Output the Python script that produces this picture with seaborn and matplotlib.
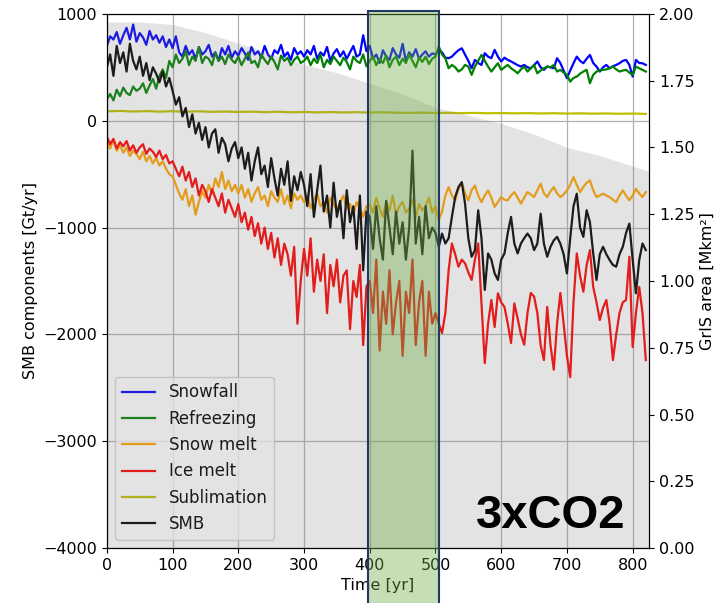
import numpy as np
import pandas as pd
import seaborn as sns
import matplotlib.pyplot as plt
from matplotlib.patches import Rectangle

# time axis of the SMB components (5-yr sampling)
years = np.arange(0, 825, 5)

snowfall = [
    700, 790, 760, 830, 720, 800, 870, 760, 900, 740, 820, 780, 710, 840, 760, 800, 730, 790, 690, 760,
    680, 790, 640, 600, 700, 620, 660, 580, 690, 620, 650, 710, 600, 640, 560, 680, 620, 700, 590, 650,
    610, 680, 630, 570, 690, 620, 650, 590, 700, 620, 580, 660, 630, 710, 600, 640, 570, 680, 620, 650,
    600, 660, 620, 700, 580, 640, 610, 690, 560, 630, 670, 600, 650, 580, 640, 700, 600, 620, 800, 650,
    700, 580, 620, 540, 660, 600, 570, 680, 620, 590, 720, 560, 640, 600, 670, 580, 620, 650, 600, 630,
    620, 663, 640, 590, 585, 600, 632, 660, 678, 620, 560, 491, 569, 540, 522, 632, 600, 585, 663, 600,
    554, 590, 569, 555, 538, 520, 507, 522, 500, 491, 520, 554, 500, 476, 507, 500, 491, 585, 540, 470,
    398, 470, 538, 600, 560, 538, 580, 616, 540, 507, 460, 500, 522, 491, 510, 522, 538, 560, 569, 522,
    413, 569, 540, 538, 522,
]

refreezing = [
    200, 250, 190, 290, 230, 310, 260, 240, 320, 280, 300, 350, 260, 330, 390, 300, 420, 480, 400, 560,
    500, 620, 540, 580, 650, 520, 600, 560, 690, 540, 600, 580, 520, 640, 560, 600, 530, 620, 570, 540,
    600, 520, 580, 640, 540, 560, 500, 620, 570, 530, 600, 550, 480, 610, 560, 590, 520, 570, 600, 540,
    560, 600, 520, 580, 540, 620, 500, 570, 530, 600, 560, 520, 590, 550, 480, 600, 560, 540, 620, 510,
    560, 600, 520, 580, 540, 610, 500, 570, 600, 520, 580, 540, 620, 560, 500, 590, 550, 600, 530, 580,
    600, 694, 620, 585, 491, 522, 500, 460, 480, 522, 507, 429, 507, 560, 616, 560, 507, 460, 500, 538,
    476, 500, 522, 491, 470, 444, 480, 507, 460, 490, 522, 444, 470, 491, 507, 500, 522, 460, 476, 450,
    429, 366, 400, 413, 440, 460, 476, 351, 429, 460, 470, 476, 480, 491, 507, 480, 460, 470, 476, 450,
    429, 507, 490, 476, 460,
]

snow_melt = [
    -200, -260, -180, -280, -230, -300, -250, -330, -280, -310, -360, -290, -380, -330, -400, -350, -420, -380, -450, -500,
    -520, -600, -680, -740, -640, -800, -700, -880, -760, -660, -720, -600, -680, -540, -620, -480, -640, -560, -660, -600,
    -680, -600, -720, -640, -760, -680, -620, -740, -700, -800, -660, -720, -760, -640, -780, -700, -820, -680, -740, -700,
    -760, -700, -820, -740, -680, -800, -760, -860, -720, -780, -840, -760, -700, -820, -780, -880, -760, -820, -900, -800,
    -780, -860, -720, -820, -900, -760, -840, -700, -880, -800, -760, -860, -820, -740, -900, -780, -840, -800, -720, -860,
    -800, -930, -850, -700, -621, -700, -745, -640, -575, -680, -745, -650, -606, -700, -761, -700, -652, -720, -807, -760,
    -714, -740, -745, -700, -668, -720, -776, -720, -668, -690, -714, -650, -590, -680, -714, -660, -621, -680, -714, -690,
    -652, -600, -528, -600, -668, -620, -580, -559, -650, -714, -700, -683, -700, -714, -740, -761, -700, -652, -700, -745,
    -700, -637, -680, -714, -668,
]

ice_melt = [
    -150, -220, -170, -260, -200, -240, -190, -280, -230, -300, -250, -220, -310, -260, -290, -340, -280, -360, -320, -400,
    -380, -450, -520, -430, -560, -480, -620, -540, -700, -600, -660, -760, -640, -720, -800, -680, -860, -740, -820, -900,
    -780, -950, -860, -1020, -900, -1080, -960, -1150, -1000, -1200, -1050, -1280, -1100, -1350, -1150, -1250, -1450, -1180, -1900, -1500,
    -1200, -1450, -1100, -1600, -1300, -1500, -1250, -1800, -1350, -1550, -1300, -1700, -1450, -1400, -1950, -1500, -1650, -1350, -2100, -1550,
    -1500, -1800, -1300, -2150, -1600, -1900, -1400, -2000, -1700, -1500, -2200, -1600, -1800, -1300, -2100, -1700, -1500, -2200, -1600, -1900,
    -1800, -1900, -1987, -1801, -1400, -1149, -1250, -1366, -1300, -1335, -1420, -1490, -1300, -1149, -1700, -2268, -1900, -1678, -1930, -1615,
    -1700, -1743, -1900, -2080, -1710, -1850, -2000, -2096, -1800, -1612, -1645, -1800, -2100, -2240, -1743, -2100, -2330, -1900, -1612, -1900,
    -2200, -2400, -1700, -1242, -1450, -1600, -1350, -1211, -1556, -1700, -1865, -1750, -1678, -1900, -2240, -2000, -1800, -1700, -1678, -1273,
    -2118, -1800, -1556, -1800, -2240,
]

smb = [
    500, 620, 420, 700, 540, 640, 460, 720, 560, 480, 600, 420, 540, 380, 500, 440, 360, 460, 320, 400,
    280, 150, 220, 40, 120, -60, 60, -120, -20, -180, -60, -250, -120, -80, -300, -160, -220, -380, -260, -200,
    -350, -250, -450, -300, -560, -380, -250, -500, -420, -620, -350, -540, -700, -450, -600, -380, -750, -520, -650, -480,
    -600, -800, -500, -900, -650, -420, -850, -700, -1000, -580, -900, -750, -1100, -650, -950, -800, -1200, -700, -1400, -850,
    -900, -1200, -800, -1100, -1300, -750, -1000, -1250, -850, -1150, -950, -1300, -1000, -280, -1150, -900, -1250, -800, -1100, -1000,
    -1050, -1180, -1056, -1149, -1100, -900, -714, -620, -575, -776, -1100, -1273, -1211, -838, -1100, -1584, -1242, -1300, -1429, -1490,
    -1300, -1242, -1050, -900, -1150, -1242, -1149, -1100, -1056, -1100, -1211, -1150, -870, -1150, -1273, -1180, -1120, -1087, -1150, -1250,
    -1429, -1100, -800, -683, -1000, -1087, -838, -950, -1242, -1490, -1250, -1180, -1250, -1304, -1350, -1366, -1250, -1180, -1050, -963,
    -1300, -1615, -1304, -1149, -1211,
]

# sublimation is almost flat, sampled every 20 yr
sub_years = np.arange(0, 830, 20)
sublimation = [88, 92, 86, 90, 85, 89, 84, 88, 83, 86, 82, 85, 80, 84, 79, 82, 78, 81, 77, 80,
               76, 79, 75, 73, 76, 72, 74, 71, 73, 70, 72, 69, 71, 68, 70, 67, 69, 66, 68, 65, 67, 64]

# ice sheet area (right axis)
area_years = [0, 50, 100, 150, 200, 250, 300, 350, 400, 450, 500, 550, 600, 650, 700, 750, 800, 825]
area = [1.97, 1.97, 1.96, 1.93, 1.89, 1.85, 1.81, 1.78, 1.74, 1.70, 1.65, 1.62, 1.59, 1.55, 1.50, 1.47, 1.43, 1.41]

names = ['Snowfall', 'Refreezing', 'Snow melt', 'Ice melt', 'Sublimation', 'SMB']
colors = ['blue', 'green', 'orange', 'red', 'y', 'k']

parts = []
for name, vals in zip(names, [snowfall, refreezing, snow_melt, ice_melt, None, smb]):
    if name == 'Sublimation':
        parts.append(pd.DataFrame({'year': sub_years, 'value': sublimation, 'component': name}))
    else:
        parts.append(pd.DataFrame({'year': years, 'value': vals, 'component': name}))
df = pd.concat(parts, ignore_index=True)

fig = plt.figure(figsize=(7.22, 6.03), dpi=100)
ax = fig.add_axes([0.148, 0.091, 0.751, 0.886])

sns.lineplot(data=df, x='year', y='value', hue='component', hue_order=names,
             palette=dict(zip(names, colors)), linewidth=1.6, ax=ax, estimator=None, sort=True)
ax.set_xlim(0, 825)
ax.set_ylim(-4000, 1000)
ax.set_xticks(range(0, 900, 100))
ax.grid(True, color='#b0b0b0', lw=0.9)
ax.set_xlabel('Time [yr]', fontsize=11.5)
ax.set_ylabel('SMB components [Gt/yr]', fontsize=11.5)
ax.tick_params(labelsize=11.5)

leg = ax.get_legend()
handles = leg.legend_handles
labels = [t.get_text() for t in leg.get_texts()]
for h in handles:
    h.set_linewidth(1.6)
ax.legend(handles, labels, loc='lower left', fontsize=12)

ax2 = ax.twinx()
ax2.fill_between(area_years, 0, area, color='gray', alpha=0.22, lw=0)
ax2.set_ylim(0, 2.0)
ax2.set_yticks(np.arange(0, 2.01, 0.25))
ax2.set_ylabel('GrIS area [Mkm²]', fontsize=11.5)
ax2.tick_params(labelsize=11.5)

ax2.text(561, -3813, '3xCO2', transform=ax.transData, fontsize=34, fontweight='bold',
         family='Liberation Sans', ha='left', va='baseline', color='black', zorder=5)

# highlighted window 400-500 yr
ax2.add_patch(Rectangle((397, -0.11), 108, 1.115, transform=ax2.get_xaxis_transform(),
                        facecolor=(0x70/255, 0xAD/255, 0x47/255, 0.4),
                        edgecolor='#1f3864', lw=1.5, clip_on=False, zorder=10))

fig.savefig('out.png', dpi=100)
